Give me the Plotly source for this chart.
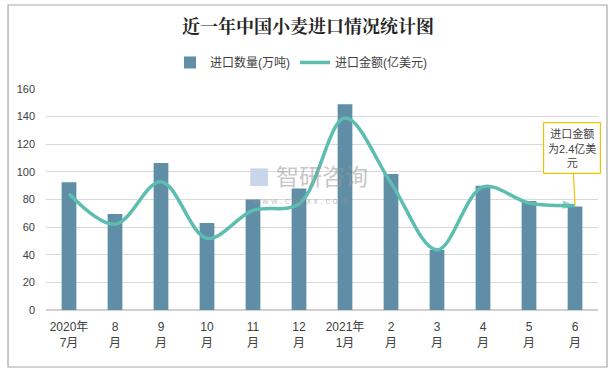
import plotly.graph_objects as go

months = ["2020年<br>7月", "8<br>月", "9<br>月", "10<br>月", "11<br>月", "12<br>月",
          "2021年<br>1月", "2<br>月", "3<br>月", "4<br>月", "5<br>月", "6<br>月"]
volume = [92.5, 69.5, 106.5, 63, 80, 88, 149, 98.5, 43.5, 90, 79, 75]          # 万吨
value = [2.67, 1.97, 2.95, 1.65, 2.29, 2.44, 4.41, 2.92, 1.38, 2.83, 2.46, 2.40]  # 亿美元
y_ticks = [0, 20, 40, 60, 80, 100, 120, 140, 160]

FONT = "Liberation Sans, Noto Sans CJK SC, sans-serif"
n = len(months)
symbols = ["circle"] * (n - 1) + ["arrow"]
sizes = [11] + [0] * (n - 2) + [13]

fig = go.Figure()
fig.add_trace(go.Bar(
    x=months, y=volume, name="进口数量(万吨)",
    marker=dict(color="#5f8ea6", line=dict(width=0)),
    width=0.32,
))
fig.add_trace(go.Scatter(
    x=months, y=value, name="进口金额(亿美元)", yaxis="y2",
    mode="lines+markers",
    line=dict(color="#5dbdb1", width=3.5, shape="spline", smoothing=1.0),
    marker=dict(symbol=symbols, size=sizes, color="#5dbdb1", angleref="previous",
                line=dict(width=0)),
    cliponaxis=False,
))

fig.update_layout(
    width=616, height=371,
    margin=dict(l=46, r=18, t=89, b=61, autoexpand=False),
    paper_bgcolor="white", plot_bgcolor="white",
    font=dict(family=FONT, size=12, color="#404040"),
    title=dict(text="<b>近一年中国小麦进口情况统计图</b>", x=0.5, xanchor="center",
               y=0.928, yanchor="middle",
               font=dict(family="Noto Serif CJK SC, Noto Sans CJK SC, serif", size=18, color="#262626")),
    showlegend=True,
    legend=dict(orientation="h", x=0.462, xanchor="center", y=1.12, yanchor="middle",
                font=dict(size=12, color="#404040"), traceorder="normal",
                itemwidth=30, tracegroupgap=0),
    xaxis=dict(range=[-0.5, n - 0.5], showgrid=False, showline=False, ticks="",
               tickfont=dict(size=12, color="#404040"), tickangle=0, automargin=False,
               ticklabelstandoff=8),
    yaxis=dict(range=[0, 160], tickvals=y_ticks, showgrid=True, gridcolor="#d9d9d9",
               gridwidth=1, zeroline=True, zerolinecolor="#d0d0d0", showline=False,
               tickfont=dict(size=11, color="#404040"), ticklabelstandoff=10, automargin=False),
    yaxis2=dict(range=[0, 160 / 31.5], overlaying="y", side="right", visible=False,
                automargin=False),
)

# outer border
fig.add_shape(type="rect", xref="paper", yref="paper",
              x0=-0.0688, x1=1.0163, y0=-0.258, y1=1.380,
              line=dict(color="#a6a6a6", width=1.2), fillcolor="rgba(0,0,0,0)", layer="below")

# callout
fig.add_annotation(x=months[-1], y=value[-1], yref="y2",
                   text="进口金额<br>为2.4亿美<br>元", showarrow=True,
                   arrowhead=0, arrowcolor="#f2c200", arrowwidth=1.2,
                   ax=-3, ay=-58, bordercolor="#f2c200", borderwidth=1.2, borderpad=4,
                   bgcolor="white", font=dict(size=11, color="#404040"), align="center",
                   width=48)

# watermark
fig.add_annotation(x=0.385, y=0.61, xref="paper", yref="paper", showarrow=False,
                   text="<span style='color:#c9d6ea'>■</span>",
                   font=dict(size=22, family="Noto Sans CJK SC, sans-serif"))
fig.add_annotation(x=0.50, y=0.61, xref="paper", yref="paper", showarrow=False,
                   text="智研咨询",
                   font=dict(size=23, color="rgba(150,150,150,0.55)",
                             family="Noto Sans CJK SC, sans-serif"))
fig.add_annotation(x=0.46, y=0.495, xref="paper", yref="paper", showarrow=False,
                   text="w w w . c h y x x . c o m",
                   font=dict(size=9, color="rgba(150,150,150,0.6)"))

fig.write_html("out.html", config={"displayModeBar": False},
               post_script="document.body.style.margin='0';document.body.style.overflow='hidden';")
